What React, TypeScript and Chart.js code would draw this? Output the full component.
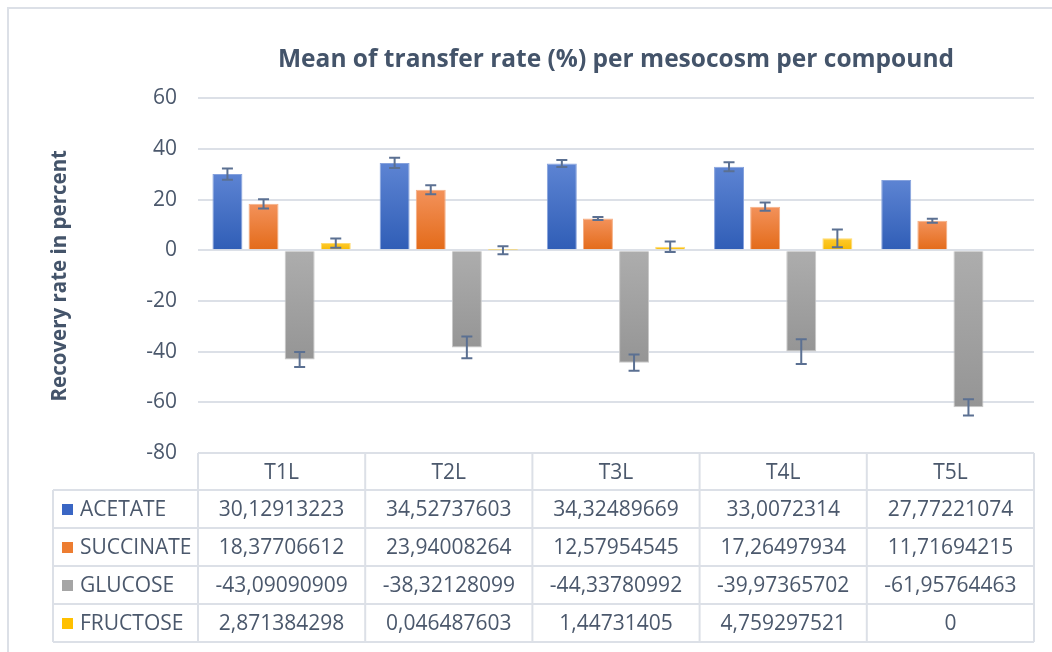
import React, { useEffect, useRef } from "react";
import { Chart, registerables } from "chart.js";

Chart.register(...registerables);

const categories = ["T1L", "T2L", "T3L", "T4L", "T5L"];
const seriesNames = ["ACETATE", "SUCCINATE", "GLUCOSE", "FRUCTOSE"];
const acetate = [30.12913223, 34.52737603, 34.32489669, 33.0072314, 27.77221074];
const succinate = [18.37706612, 23.94008264, 12.57954545, 17.26497934, 11.71694215];
const glucose = [-43.09090909, -38.32128099, -44.33780992, -39.97365702, -61.95764463];
const fructose = [2.871384298, 0.046487603, 1.44731405, 4.759297521, 0];
const acetateErr = [2.2, 2.0, 1.4, 1.8, 0];
const succinateErr = [1.8, 1.8, 0.6, 1.6, 0.8];
const glucoseErr = [3.0, 4.3, 3.2, 4.9, 3.2];
const fructoseErr = [1.8, 1.6, 2.1, 3.5, 0];
const yTicks = [-80, -60, -40, -20, 0, 20, 40, 60];

const TEXT = "#4B586C";
const LINE = "#DCE0E7";
const FONT = "'Open Sans', 'Noto Sans', sans-serif";

const palette = [
  { top: "#5D84D3", bottom: "#2F5DB6", border: "#86A2DD", swatch: "#3A66C4" },
  { top: "#F3925B", bottom: "#E36A18", border: "#F5AE84", swatch: "#ED7D31" },
  { top: "#ADADAD", bottom: "#959595", border: "#C8C8C8", swatch: "#A5A5A5" },
  { top: "#FFCB2E", bottom: "#F5B800", border: "#FFDA70", swatch: "#FFC000" },
];

const values = [acetate, succinate, glucose, fructose];
const errors = [acetateErr, succinateErr, glucoseErr, fructoseErr];

function gradientFill(i: number) {
  return (c: any) => {
    const chart = c.chart;
    const area = chart.chartArea;
    const p = palette[i];
    if (!area || c.type !== "data") return p.swatch;
    const y = chart.scales.y;
    const y0 = y.getPixelForValue(0);
    const y1 = y.getPixelForValue(c.raw);
    const a = Math.min(y0, y1);
    const b = Math.max(y0, y1) + 0.5;
    const g = chart.ctx.createLinearGradient(0, a, 0, b);
    g.addColorStop(0, p.top);
    g.addColorStop(1, p.bottom);
    return g;
  };
}

const fmt = (v: number) => String(v).replace(".", ",");

const errorBarPlugin = {
  id: "errorBars",
  afterDatasetsDraw(chart: any) {
    const { ctx, scales } = chart;
    ctx.save();
    ctx.strokeStyle = "#5B7092";
    ctx.lineWidth = 2;
    chart.data.datasets.forEach((ds: any, i: number) => {
      const meta = chart.getDatasetMeta(i);
      meta.data.forEach((bar: any, j: number) => {
        const e = errors[i][j];
        if (!e) return;
        const v = values[i][j];
        const yt = scales.y.getPixelForValue(v + e);
        const yb = scales.y.getPixelForValue(v - e);
        const x = bar.x;
        ctx.beginPath();
        ctx.moveTo(x, yt);
        ctx.lineTo(x, yb);
        ctx.moveTo(x - 5.5, yt);
        ctx.lineTo(x + 5.5, yt);
        ctx.moveTo(x - 5.5, yb);
        ctx.lineTo(x + 5.5, yb);
        ctx.stroke();
      });
    });
    ctx.restore();
  },
};

const tablePlugin = {
  id: "dataTable",
  afterDraw(chart: any) {
    const { ctx, chartArea } = chart;
    const n = categories.length;
    const colW = (chartArea.right - chartArea.left) / n;
    const top = chartArea.bottom;
    const headerH = 37;
    const rowH = 38;
    const tableLeft = 53;
    const rowsTop = top + headerH;
    const bottom = rowsTop + rowH * seriesNames.length;
    ctx.save();
    // outer frame
    ctx.strokeStyle = LINE;
    ctx.lineWidth = 2;
    ctx.beginPath();
    ctx.moveTo(8, 652);
    ctx.lineTo(8, 8);
    ctx.lineTo(1052, 8);
    ctx.stroke();

    ctx.beginPath();
    ctx.moveTo(chartArea.left, top);
    ctx.lineTo(chartArea.right, top);
    for (let k = 0; k <= n; k++) {
      const x = chartArea.left + k * colW;
      ctx.moveTo(x, top);
      ctx.lineTo(x, bottom);
    }
    for (let r = 0; r <= seriesNames.length; r++) {
      const y = rowsTop + r * rowH;
      ctx.moveTo(tableLeft, y);
      ctx.lineTo(chartArea.right, y);
    }
    ctx.moveTo(tableLeft, rowsTop);
    ctx.lineTo(tableLeft, bottom);
    ctx.stroke();

    ctx.font = `21px ${FONT}`;
    ctx.textBaseline = "middle";
    seriesNames.forEach((name, r) => {
      const yc = rowsTop + r * rowH + rowH / 2;
      ctx.fillStyle = palette[r].swatch;
      ctx.fillRect(62, yc - 5, 11, 11);
      ctx.fillStyle = TEXT;
      ctx.textAlign = "left";
      ctx.fillText(name, 80, yc + 1);
      ctx.textAlign = "center";
      values[r].forEach((v, j) => {
        const xc = chartArea.left + j * colW + colW / 2;
        ctx.fillText(fmt(v), xc, yc + 1);
      });
    });
    ctx.restore();
  },
};

export default function App() {
  const ref = useRef<HTMLCanvasElement>(null);
  useEffect(() => {
    if (!ref.current) return;
    const chart = new Chart(ref.current, {
      type: "bar",
      data: {
        labels: categories,
        datasets: seriesNames.map((name, i) => ({
          label: name,
          data: values[i],
          backgroundColor: gradientFill(i),
          borderColor: palette[i].border,
          borderWidth: 1,
          categoryPercentage: 0.864,
          barPercentage: 0.83,
        })),
      },
      options: {
        animation: false,
        responsive: false,
        layout: { padding: { left: 48, top: 0, right: 18, bottom: 162 } },
        plugins: {
          legend: { display: false },
          tooltip: { enabled: false },
          title: {
            display: true,
            fullSize: false,
            text: "Mean of transfer rate (%) per mesocosm per compound",
            color: "#44546A",
            font: { family: FONT, size: 24.5, weight: "bold" },
            padding: { top: 45, bottom: 24 },
          },
        },
        scales: {
          x: {
            grid: { display: false, drawTicks: false },
            border: { display: false },
            ticks: { color: TEXT, font: { family: FONT, size: 21 }, padding: 7 },
            afterFit: (s: any) => {
              s.height = 37;
            },
          },
          y: {
            min: -80,
            max: 60,
            afterBuildTicks: (s: any) => {
              s.ticks = yTicks.map((v) => ({ value: v }));
            },
            grid: { color: LINE, lineWidth: 2, drawTicks: false },
            border: { display: false },
            ticks: { color: TEXT, font: { family: FONT, size: 21 }, padding: 21 },
            title: {
              display: true,
              text: "Recovery rate in percent",
              color: "#44546A",
              font: { family: FONT, size: 20.5, weight: "bold" },
              padding: 0,
            },
            afterFit: (s: any) => {
              s.width = 150;
            },
          },
        },
      },
      plugins: [errorBarPlugin, tablePlugin],
    } as any);
    return () => chart.destroy();
  }, []);
  return (
    <div style={{ position: "fixed", left: 0, top: 0, width: 1052, height: 652, background: "#fff" }}>
      <canvas ref={ref} width={1052} height={652} style={{ width: 1052, height: 652, display: "block" }} />
    </div>
  );
}
